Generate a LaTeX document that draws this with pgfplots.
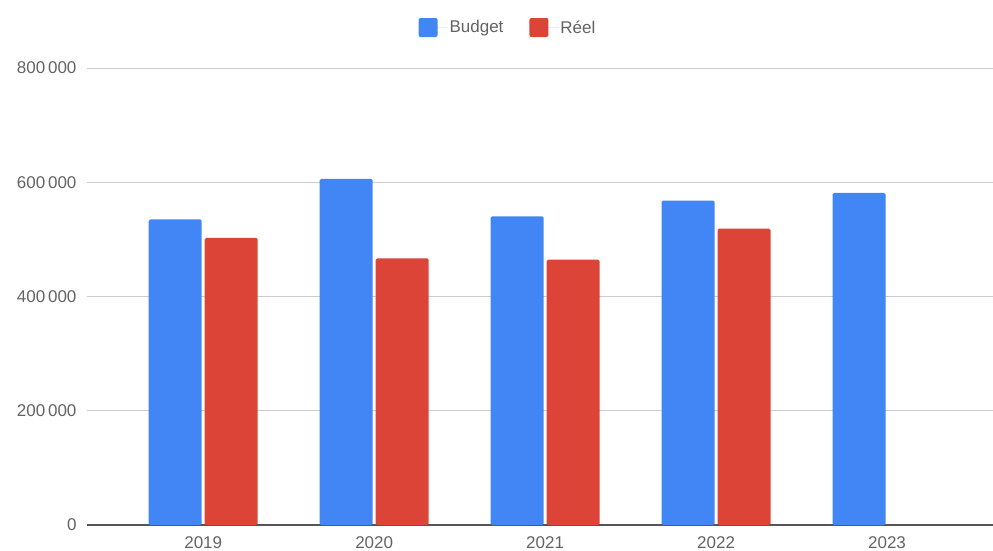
\documentclass[border=0pt]{standalone}
\usepackage{fontspec}
\setmainfont{Liberation Sans}
\usepackage{pgfplots}
\pgfplotsset{compat=1.18}
\definecolor{cBudget}{HTML}{4285F4}
\definecolor{cReel}{HTML}{DB4437}
\definecolor{cGrid}{HTML}{CCCCCC}
\definecolor{cText}{HTML}{636363}
\definecolor{cAxis}{HTML}{555555}
\begin{document}
\begin{tikzpicture}
\useasboundingbox (-87pt,-25pt) rectangle (906pt,525pt);
\begin{axis}[
  scale only axis,
  width=906pt, height=457pt,
  at={(0pt,0pt)}, anchor=south west,
  ybar=3pt, bar width=53pt,
  xmin=-0.68, xmax=4.62,
  ymin=0, ymax=800000,
  xtick={0,1,2,3,4},
  xticklabels={2019,2020,2021,2022,2023},
  ytick={0,200000,400000,600000,800000},
  yticklabels={0,200\thinspace000,400\thinspace000,600\thinspace000,800\thinspace000},
  scaled y ticks=false,
  axis x line*=bottom, axis y line*=left,
  x axis line style={draw=cAxis, line width=1.5pt, -},
  y axis line style={draw=none},
  major tick length=0pt,
  ymajorgrids, grid style={draw=cGrid, line width=0.9pt},
  tick label style={font=\fontsize{17}{20}\selectfont, text=cText},
  yticklabel style={anchor=east, xshift=-7pt},
  xticklabel style={anchor=center, yshift=-17.5pt},
  legend style={at={(0.5,1)}, anchor=center, xshift=-32pt, yshift=40.5pt, draw=none,
    font=\fontsize{17}{20}\selectfont, text=cText,
    /tikz/every even column/.append style={column sep=24pt}},
  legend columns=2,
  legend image code/.code={\path (0pt,0pt) -- (29pt,0pt); \fill[#1, rounded corners=2pt] (0pt,-9.5pt) rectangle (19pt,9.5pt);},
]
\addplot[fill=cBudget, draw=none, rounded corners=1.5pt] coordinates {(0,535000) (1,606000) (2,540400) (3,568000) (4,581400)};
\addplot[fill=cReel, draw=none, rounded corners=1.5pt] coordinates {(0,502500) (1,466800) (2,464500) (3,518800)};
\legend{Budget, Réel}
\end{axis}
\end{tikzpicture}
\end{document}
